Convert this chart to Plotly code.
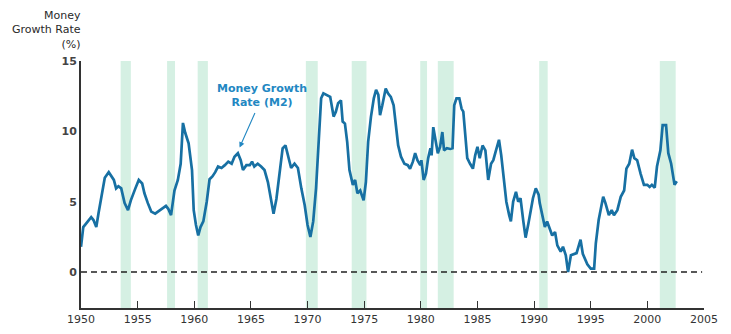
import plotly.graph_objects as go

years = [1950.0, 1950.2, 1950.5, 1950.9, 1951.1, 1951.35, 1951.55, 1951.8, 1952.1, 1952.45,
         1952.7, 1952.9, 1953.1, 1953.3, 1953.55, 1953.85, 1954.15, 1954.4, 1954.8, 1955.1,
         1955.4, 1955.6, 1955.9, 1956.2, 1956.55, 1956.95, 1957.2, 1957.5, 1957.7, 1957.95,
         1958.25, 1958.55, 1958.8, 1959.0, 1959.2, 1959.5, 1959.8, 1959.95, 1960.15, 1960.35,
         1960.55, 1960.8, 1961.1, 1961.35, 1961.6, 1961.85, 1962.1, 1962.4, 1962.7, 1963.0,
         1963.3, 1963.55, 1963.85, 1964.1, 1964.3, 1964.6, 1964.9, 1965.1, 1965.3, 1965.6,
         1965.9, 1966.2, 1966.5, 1966.8, 1967.0, 1967.25, 1967.55, 1967.8, 1968.05, 1968.25,
         1968.55, 1968.85, 1969.15, 1969.45, 1969.75, 1970.0, 1970.25, 1970.5, 1970.75, 1971.0,
         1971.2, 1971.4, 1971.7, 1972.0, 1972.3, 1972.5, 1972.7, 1972.95, 1973.1, 1973.3,
         1973.5, 1973.7, 1974.0, 1974.2, 1974.4, 1974.65, 1974.95, 1975.15, 1975.35, 1975.6,
         1975.85, 1976.05, 1976.25, 1976.4, 1976.6, 1976.9, 1977.1, 1977.35, 1977.6, 1977.8,
         1978.0, 1978.25, 1978.55, 1978.85, 1979.05, 1979.3, 1979.5, 1979.7, 1979.95, 1980.05,
         1980.25, 1980.45, 1980.65, 1980.85, 1980.95, 1981.1, 1981.3, 1981.5, 1981.7, 1981.9,
         1982.05, 1982.3, 1982.6, 1982.8, 1982.95, 1983.15, 1983.4, 1983.6, 1983.75, 1983.9,
         1984.1, 1984.35, 1984.6, 1984.8, 1985.0, 1985.2, 1985.45, 1985.7, 1985.8, 1985.95,
         1986.2, 1986.4, 1986.6, 1986.9, 1987.1, 1987.35, 1987.55, 1987.8, 1987.95, 1988.15,
         1988.4, 1988.6, 1988.8, 1989.05, 1989.25, 1989.5, 1989.7, 1989.9, 1990.15, 1990.4,
         1990.5, 1990.75, 1990.95, 1991.15, 1991.4, 1991.6, 1991.85, 1992.05, 1992.35, 1992.55,
         1992.8, 1993.0, 1993.25, 1993.5, 1993.75, 1994.1, 1994.3, 1994.7, 1995.0, 1995.3,
         1995.45, 1995.7, 1996.1, 1996.3, 1996.6, 1996.85, 1997.05, 1997.35, 1997.65, 1997.95,
         1998.15, 1998.4, 1998.65, 1998.85, 1999.1, 1999.4, 1999.7, 2000.0, 2000.2, 2000.4,
         2000.65, 2000.85, 2001.15, 2001.35, 2001.65, 2001.85, 2002.1, 2002.4, 2002.6]

m2_growth = [1.8, 3.2, 3.5, 3.9, 3.7, 3.2, 4.2, 5.35, 6.7, 7.1,
             6.8, 6.55, 5.95, 6.1, 5.95, 4.9, 4.4, 5.1, 5.95, 6.55,
             6.3, 5.6, 4.9, 4.3, 4.15, 4.4, 4.5, 4.7, 4.5, 4.05,
             5.8, 6.55, 7.7, 10.6, 9.9, 9.15, 7.25, 4.4, 3.35, 2.6,
             3.2, 3.6, 5.0, 6.6, 6.8, 7.1, 7.5, 7.4, 7.6, 7.85,
             7.7, 8.2, 8.45, 7.95, 7.25, 7.6, 7.6, 7.85, 7.5, 7.7,
             7.5, 7.25, 6.4, 5.0, 4.15, 5.2, 7.4, 8.8, 9.0, 8.3,
             7.4, 7.7, 7.4, 5.95, 4.75, 3.35, 2.5, 3.6, 5.95, 9.5,
             12.35, 12.7, 12.6, 12.45, 11.05, 11.4, 12.0, 12.2, 10.7, 10.55,
             9.25, 7.25, 6.2, 6.55, 5.6, 5.8, 5.1, 6.4, 9.25, 11.05,
             12.35, 12.95, 12.6, 11.15, 11.85, 13.05, 12.7, 12.45, 11.85, 10.45,
             9.0, 8.2, 7.7, 7.6, 7.35, 7.85, 8.45, 7.95, 7.6, 7.95,
             6.55, 7.0, 8.1, 8.8, 8.3, 10.3, 9.25, 8.45, 8.9, 9.95,
             8.65, 8.8, 8.75, 8.8, 11.85, 12.35, 12.35, 11.6, 11.4, 9.75,
             8.1, 7.7, 7.35, 8.3, 8.9, 8.1, 9.0, 8.65, 7.7, 6.55,
             7.7, 7.95, 8.55, 9.4, 8.3, 6.2, 5.0, 4.05, 3.6, 5.0,
             5.7, 5.0, 5.25, 3.6, 2.45, 3.45, 4.4, 5.25, 5.95, 5.5,
             4.9, 4.05, 3.2, 3.6, 3.1, 2.6, 2.85, 1.9, 1.45, 1.8,
             1.2, 0.0, 1.2, 1.3, 1.35, 2.3, 1.3, 0.55, 0.25, 0.25,
             2.05, 3.7, 5.35, 4.9, 4.05, 4.4, 4.05, 4.4, 5.35, 5.8,
             7.35, 7.7, 8.7, 8.1, 7.95, 7.0, 6.2, 6.2, 6.05, 6.2,
             6.0, 7.5, 8.65, 10.45, 10.45, 8.45, 7.7, 6.2, 6.45]

recession_starts = [1953.5, 1957.6, 1960.3, 1969.85, 1973.9, 1979.95, 1981.5, 1990.45, 2001.1]
recession_ends = [1954.4, 1958.3, 1961.2, 1970.9, 1975.2, 1980.55, 1982.9, 1991.2, 2002.5]

x_ticks = [1950, 1955, 1960, 1965, 1970, 1975, 1980, 1985, 1990, 1995, 2000, 2005]
y_ticks = [0, 5, 10, 15]

line_color = "#1770a3"
label_color = "#2287c2"
band_color = "#d5f0e3"
axis_color = "#333333"
font_family = "DejaVu Sans, Verdana, sans-serif"

fig = go.Figure()

fig.add_trace(go.Scatter(
    x=years, y=m2_growth, mode="lines",
    line=dict(color=line_color, width=2.7),
    hoverinfo="skip", showlegend=False,
))

shapes = []
for s, e in zip(recession_starts, recession_ends):
    shapes.append(dict(type="rect", xref="x", yref="paper", x0=s, x1=e, y0=0, y1=1,
                       fillcolor=band_color, line=dict(width=0), layer="below"))
shapes.append(dict(type="line", xref="paper", yref="y", x0=0, x1=0.997, y0=0, y1=0,
                   line=dict(color="#222222", width=1.5, dash="6px,4px")))

annotations = [
    dict(text="Money<br>Growth Rate<br>(%)", xref="paper", yref="paper",
         x=0.003, y=1.125, xanchor="right", yanchor="middle", align="right",
         showarrow=False, font=dict(family=font_family, size=11, color="#2a2a2a")),
    dict(text="<b>Money Growth<br>Rate (M2)</b>", xref="x", yref="y",
         x=1950 + (262 - 81) / 11.33, y=12.55, xanchor="center", yanchor="middle",
         align="center", showarrow=False,
         font=dict(family=font_family, size=11, color=label_color)),
    dict(text="", xref="x", yref="y", x=1964.0, y=8.85, ax=16, ay=-36,
         showarrow=True, arrowhead=2, arrowsize=1, arrowwidth=1.1,
         arrowcolor=label_color),
]

fig.update_layout(
    width=731, height=334,
    margin=dict(l=81, r=27, t=61, b=26, autoexpand=False),
    paper_bgcolor="white", plot_bgcolor="white",
    shapes=shapes, annotations=annotations,
    font=dict(family=font_family, size=11, color="#2a2a2a"),
    xaxis=dict(range=[1950, 2005], tickvals=x_ticks, ticktext=[str(t) for t in x_ticks],
               showgrid=False, zeroline=False, showline=True, linecolor=axis_color,
               linewidth=1.5, ticks="inside", ticklen=7, tickwidth=1.2,
               tickcolor=axis_color, automargin=False,
               tickfont=dict(family=font_family, size=11, color="#333333")),
    yaxis=dict(range=[-2.55, 15], tickvals=y_ticks,
               ticktext=["<b>%d</b>" % t for t in y_ticks],
               showgrid=False, zeroline=False, showline=True, linecolor=axis_color,
               linewidth=1.8, ticks="", automargin=False,
               tickfont=dict(family=font_family, size=11, color="#444444")),
)

fig.write_html("out.html")
